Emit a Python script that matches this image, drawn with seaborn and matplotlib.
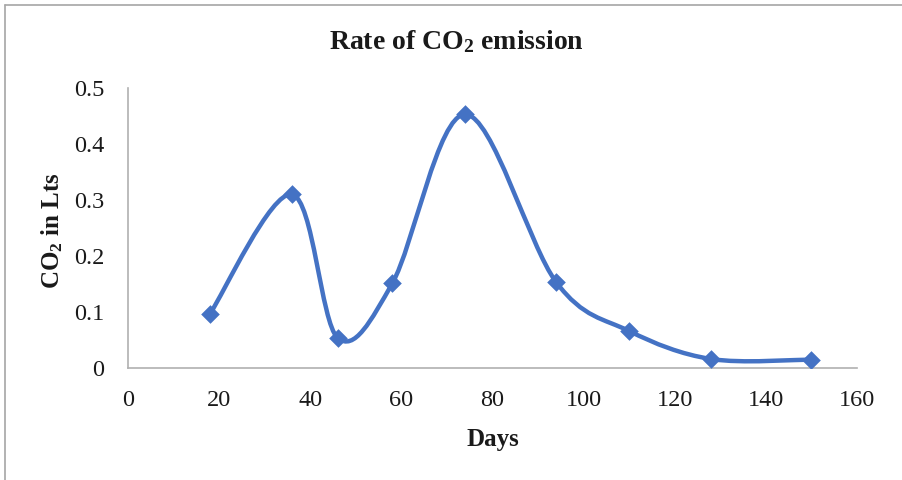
import matplotlib
matplotlib.use("Agg")
import matplotlib.pyplot as plt
import seaborn as sns
import numpy as np
import pandas as pd
from matplotlib.path import Path
from matplotlib.patches import PathPatch
from matplotlib.lines import Line2D

days = [18, 36, 46, 58, 74, 94, 110, 128, 150]
co2 = [0.097, 0.310, 0.054, 0.151, 0.453, 0.153, 0.066, 0.016, 0.015]
xticks = [0, 20, 40, 60, 80, 100, 120, 140, 160]
yticks = [0, 0.1, 0.2, 0.3, 0.4, 0.5]
ytick_labels = ["0", "0.1", "0.2", "0.3", "0.4", "0.5"]

sns.set_theme(style="white")
plt.rcParams["font.family"] = ["Liberation Serif", "DejaVu Serif"]
plt.rcParams["mathtext.fontset"] = "custom"
plt.rcParams["mathtext.rm"] = "Liberation Serif"
plt.rcParams["mathtext.bf"] = "Liberation Serif:bold"
plt.rcParams["mathtext.it"] = "Liberation Serif:italic"

color = "#4472C4"
fig = plt.figure(figsize=(9.03, 4.8), dpi=100)
ax = fig.add_axes([128 / 903, 1 - 368 / 480, (857 - 128) / 903, (368 - 88) / 480])

df = pd.DataFrame({"Days": days, "CO2": co2})

# Smooth curve (Excel-style Catmull-Rom Bezier) through the data points
pts = np.column_stack([days, co2])
n = len(pts)
verts = [tuple(pts[0])]
codes = [Path.MOVETO]
for i in range(n - 1):
    p0 = pts[i - 1] if i > 0 else pts[i]
    p1 = pts[i]
    p2 = pts[i + 1]
    p3 = pts[i + 2] if i + 2 < n else pts[i + 1]
    c1 = p1 + (p2 - p0) / 6.0
    c2 = p2 - (p3 - p1) / 6.0
    verts += [tuple(c1), tuple(c2), tuple(p2)]
    codes += [Path.CURVE4] * 3
patch = PathPatch(Path(verts, codes), facecolor="none", edgecolor=color, lw=3.2,
                  capstyle="round", joinstyle="round", zorder=2)
ax.add_patch(patch)

sns.scatterplot(data=df, x="Days", y="CO2", marker="D", s=90, color=color,
                edgecolor=color, linewidth=0, ax=ax, zorder=3)

ax.set_xlim(0, 160)
ax.set_ylim(0, 0.5)
ax.set_xticks(xticks)
ax.set_xticklabels([str(t) for t in xticks])
ax.set_yticks(yticks)
ax.set_yticklabels(ytick_labels)
ax.tick_params(axis="both", length=0, labelsize=17.5, colors="#1a1a1a")
ax.tick_params(axis="x", pad=16)
ax.tick_params(axis="y", pad=17)
for s in ["top", "right"]:
    ax.spines[s].set_visible(False)
for s in ["left", "bottom"]:
    ax.spines[s].set_color("#b0b0b0")
    ax.spines[s].set_linewidth(1.2)
ax.grid(False)

ax.set_xlabel("Days", fontsize=18, fontweight="bold", labelpad=12, color="#1a1a1a")
ax.set_ylabel(r"CO$_\mathbf{2}$ in Lts", fontsize=18, fontweight="bold", color="#1a1a1a")
ax.yaxis.set_label_coords(-(128 - 65) / 729, 0.49)
fig.text(456 / 903, 1 - 42 / 480, r"Rate of CO$_\mathbf{2}$ emission", ha="center", va="center",
         fontsize=20, fontweight="bold", color="#1a1a1a")

fig.add_artist(Line2D([5 / 903, 5 / 903], [0, 1 - 5 / 480], transform=fig.transFigure,
                      color="#a6a6a6", lw=1.2))
fig.add_artist(Line2D([5 / 903, 1], [1 - 5 / 480, 1 - 5 / 480], transform=fig.transFigure,
                      color="#a6a6a6", lw=1.2))

fig.savefig("out.png", dpi=100)
